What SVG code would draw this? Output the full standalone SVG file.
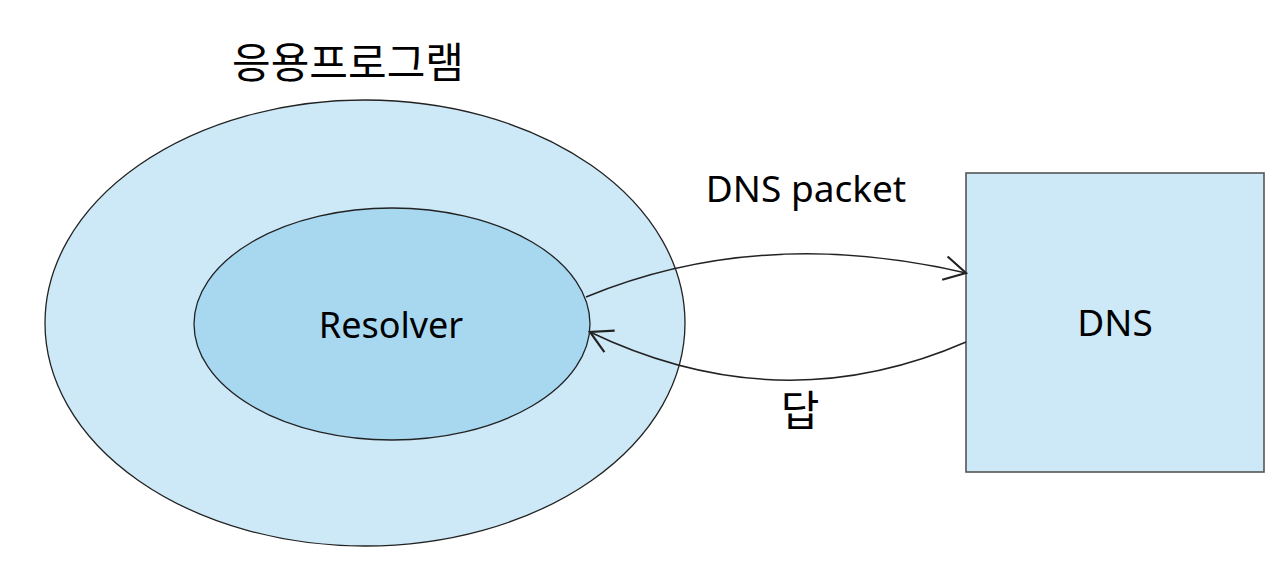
<svg xmlns="http://www.w3.org/2000/svg" width="1286" height="567" viewBox="0 0 1286 567">
<style>
.t{font-family:"Noto Sans","Noto Sans CJK KR",sans-serif;fill:#000}
.k{font-family:"Noto Sans CJK KR","Noto Sans",sans-serif;fill:#000}
.c{fill:none;stroke:#222;stroke-width:1.5}
</style>
<defs>
<marker id="a" markerWidth="26" markerHeight="26" refX="21" refY="12" orient="auto" markerUnits="userSpaceOnUse" viewBox="0 0 24 24">
<path d="M1,1 L21,12 L1,23" fill="none" stroke="#222" stroke-width="2"/>
</marker>
</defs>
<rect width="1286" height="567" fill="#fff"/>
<g id="app">
<ellipse cx="365" cy="323" rx="320" ry="223" fill="#CDE8F6" stroke="#222" stroke-width="1.3"/>
<text class="k" x="348" y="78" font-size="42" text-anchor="middle">응용프로그램</text>
</g>
<g id="resolver">
<ellipse cx="392" cy="324" rx="198" ry="116" fill="#A8D8F0" stroke="#222" stroke-width="1.3"/>
<text class="t" x="391" y="338" font-size="36" text-anchor="middle">Resolver</text>
</g>
<g id="dns">
<rect x="966" y="173" width="298" height="299" fill="#CDE8F6" stroke="#555" stroke-width="1.6"/>
<text class="t" x="1115" y="336" font-size="37" text-anchor="middle">DNS</text>
</g>
<g id="connectors">
<path class="c" d="M586,297 Q760,225 966,273" marker-end="url(#a)"/>
<path class="c" d="M966,342 Q780,423 590,332" marker-end="url(#a)"/>
<text class="t" x="806" y="202" font-size="37" text-anchor="middle">DNS packet</text>
<text class="k" x="800" y="426" font-size="42" text-anchor="middle">답</text>
</g>
</svg>
